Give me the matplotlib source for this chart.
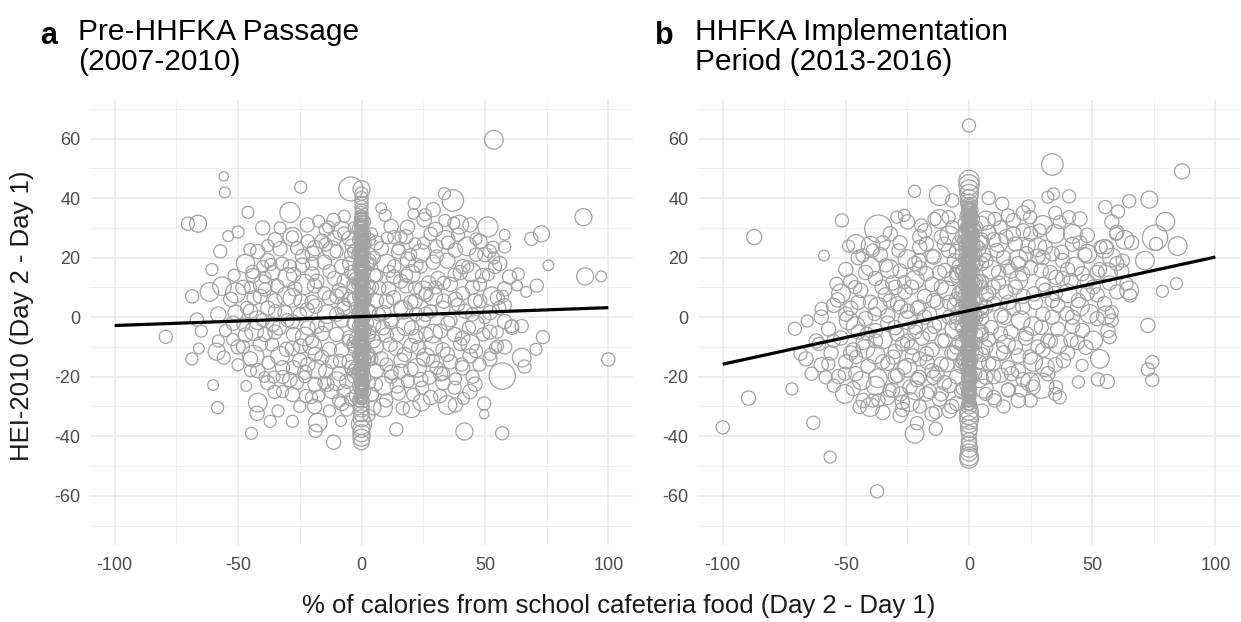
import matplotlib.pyplot as plt
import numpy as np

plt.rcParams['font.family'] = ['Liberation Sans', 'DejaVu Sans']
plt.rcParams['axes.unicode_minus'] = False

# ---------- panel a: Pre-HHFKA Passage (2007-2010) ----------
# outer / individually readable circles
a_x = [53.6, -55.8, -55.4, -24.6, -4.3, -29, -46, -70.3, -66.2, 33.6,
       37, 21.4, 29, 89.9, 51.2, 72.9, 68.8, 58, 75.7, 90.6,
       97.1, 63.5, 71, 66.7, 63, 100, 73.5, 70.7, 64.9, 60.9,
       64.9, 66, 57, 57, 41.7, 49.7, 49.7, 41.3, 38.1, 34.8,
       31.9, 14.1, 8.7, 16.7, 20.3, 24.3, -11.3, -8.3, -17.7, -18.6,
       -13, -22.5, -20.3, -17.4, -44.6, -42, -42.3, -33.8, -35.2, -46.7,
       -58.3, -60.1, -39.3, -35.5, -31.9, -43.9, -55.8, -58.7, -68.7, -65.9,
       -58, -79.3, -64.9, -66.7, -68.6, -61.6, -56.5, -51, -51.6, -60.6,
       -57.2, -54, -50, -45.2, -44.2, -39.1, -36.7, -58, -51, -55.1,
       -52.2,
       39.6, 37.4, 33.8, 25.4, 25.8, 21, 18.6, 9.6, 8, 46.4,
       46.4, 42.8, 39.1, 30.4, 25.1, 21.7, 51.9, 53.6, 54.1, 58,
       53.3, 44.6, 51.4, 57.2, 52.9, 48.1, 60.9, 58, 13.3, 10.4,
       18.8, 19.9, 13.3, 11.3, 30.4, 34.8, 37.7, 33.3, 27.2, 21.7,
       15.9, 7.2,
       -11.3, -7, -7.2, -13.3, -17.4, -14.5, -21.7, -26.1, -23.9, -18.8,
       -14.5, -10.9, -10.1, -32.2, -29, -27.5, -23.2, -18.1, -13, -7.2,
       -30.4, -34.1, -39.1, -43.5, -46.4, -24.6, -18.8, -13, -7.2,
       -47.8, -43.5, -39.1, -33.3, -27.5, -21.7, -14.5, -10.1, -36.2, -30.4,
       -24.6, -18.8, -13, -8.7, -37.7, -27.5, -21.7, -14.5, -10.1, -26.1,
       -18.8, -7.2, -4.3, 8.7, 14.5, 20.3, 26.1, 31.9, 37.7, 43.5,
       49.3, 11.6, 17.4, 23.2, 29, 34.8, 40.6, 46.4, 47.8, 10.1,
       15.9, 22.5, 27.5, 30.4, 14.5, 18.8, 24.6, 37.7, 5.8, 4.3,
       29, 52.2, 55.1, 54.3, 44.9, 50, 55.8, 39.1, 33.3, 26.1,
       21.7, 15.9, 10.1,
       -35, -30, -25, -20, -15, -10, -5, -5, -8, -12,
       -28, -38, -33, -20, -4, -3, -40, -45, -48, -32,
       -25, -6, -3, -15, -40, 5, 4, 6, 5, 4,
       7, 12, 18, 24, 28, 36, 41, 43, 35, 28,
       16, 22, 45, 40, 33, 21, 10, 12, 25, 3,
       -9, -23, 55, 48, 30, 15, -45, -50, -37, -28]
a_y = [59.6, 47.3, 41.9, 43.7, 43.1, 35.2, 35.2, 31.4, 31.4, 41.5,
       39.2, 38.3, 36.1, 33.6, 30.3, 28, 26.3, 27.7, 17.4, 13.7,
       13.7, 14.5, 10.6, 8.5, 10.6, -14.2, -6.7, -10.8, -3, -3.4,
       -13.6, -16.6, -19.8, -39, -38.4, -29, -32.6, -27.3, -20.7, -29.5,
       -26.5, -37.7, -30.4, -30.6, -30.9, -28.7, -42, -34.9, -35.4, -38.2,
       -31.5, -26.5, -27, -26.5, -39, -28.7, -32.3, -31.5, -25.1, -23.1,
       -30.4, -22.8, -20.1, -20.1, -20.1, -13.1, -13.6, -11.6, -14, -10.5,
       -8, -6.6, -4.7, -0.8, 7, 8.5, 10.4, 8.2, 14.1, 16,
       22.1, 27.2, 28.6, 22.7, 15.2, 13.4, 17.7, 0.9, 1.5, -4.5,
       -7.5,
       31.1, 31.6, 32.5, 32.7, 34.4, 34.7, 30.2, 34.2, 36.6, 26.3,
       21, 23.8, 27.7, 23.8, 24.9, 24.6, 22.1, 19.9, 16.9, 23.6,
       23.5, 15.1, 14.3, 7, 7, 5.4, -3, 4, 26.9, 26.6,
       19.3, 21, 17.1, 15.4, 20.4, 19, 14.3, 11.5, 11.5, 9.8,
       12.1, 9.8,
       32.7, 33.9, 28.3, 30.3, 32.2, 29.4, 25.5, 23.2, 20.4, 23.2,
       24.4, 26.6, 22.1, 18, 17.1, 14.3, 11, 12.1, 15.4, 12.1,
       7, 10.4, 9.3, 6.5, 3.1, 5.4, 3.7, 6.5, 4.2,
       -2.5, -4.7, -5.8, -3.6, -5.8, -3.6, -2.5, -5.8, -9.2, -10.8,
       -9.7, -12.5, -10.8, -14.7, -15.3, -17, -15.9, -18.1, -21.5, -22,
       -22.6, -24.8, -27.6, -3.6, -5.8, -3.6, -5.8, -4.7, -5.8, -3.6,
       -5.8, -9.2, -12.5, -10.3, -9.7, -12.5, -15.9, -11.4, -15.9, -15.9,
       -18.1, -17, -20.3, -17, -23.1, -21.5, -23.7, -23.7, -22.6, -25.9,
       -14.7, -12.5, -9.7, -10.3, 0.9, -0.2, 3.1, 4.2, 5.4, 7.6,
       5.4, 3.1, 5.4,
       2, -1, 1, -8, 8, 1, -8, 18, 8, -15,
       27, 24, 30, 18, 24, 30, -1, 10, -10, -25,
       -30, -31, -20, -22, 17, 20, 28, 14, -8, -14,
       1, -1, 14, 17, 2, -1, 8, 17, 25, 28,
       27, 1, -20, -9, -19, -26, -28, -20, -14, -33,
       -28, -20, -5, 11, 10, 23, -18, -16, -35, -35]
a_w = [12, 3, 4, 5, 20, 14, 5, 6, 10, 5,
       16, 5, 7, 10, 14, 9, 6, 4, 4, 10,
       4, 5, 6, 4, 4, 6, 6, 5, 6, 7,
       12, 6, 24, 6, 10, 6, 3, 5, 5, 12,
       6, 6, 12, 6, 10, 10, 7, 4, 12, 6,
       5, 6, 5, 5, 5, 12, 7, 5, 6, 4,
       5, 4, 4, 5, 6, 16, 6, 10, 5, 4,
       5, 6, 5, 6, 6, 12, 12, 14, 5, 5,
       6, 4, 5, 5, 6, 5, 5, 8, 8, 5,
       5,
       12, 5, 5, 7, 5, 4, 7, 5, 4, 5,
       6, 12, 6, 6, 5, 5, 6, 5, 6, 5,
       5, 12, 5, 5, 12, 6, 6, 6, 6, 5,
       8, 5, 6, 5, 6, 8, 6, 6, 7, 6,
       7, 6,
       6, 5, 5, 5, 5, 6, 6, 6, 7, 8,
       6, 7, 6, 6, 6, 7, 14, 7, 6, 6,
       12, 6, 6, 7, 6, 7, 7, 7, 6,
       6, 12, 7, 7, 7, 7, 7, 7, 6, 7,
       7, 7, 7, 6, 6, 7, 7, 7, 12, 6,
       7, 6, 6, 7, 7, 7, 7, 7, 7, 6,
       6, 7, 7, 7, 12, 7, 6, 6, 6, 6,
       7, 12, 6, 6, 7, 6, 6, 6, 6, 6,
       6, 5, 5, 5, 6, 5, 6, 6, 7, 7,
       7, 7, 7,
       6, 6, 6, 6, 6, 7, 6, 6, 6, 6,
       5, 5, 5, 6, 6, 5, 6, 5, 6, 5,
       5, 6, 6, 6, 5, 6, 5, 6, 6, 6,
       6, 6, 6, 6, 6, 6, 6, 5, 6, 6,
       5, 6, 6, 6, 6, 6, 6, 6, 6, 5,
       6, 5, 5, 6, 6, 5, 5, 5, 5, 5]

# dense core of the cloud (estimated)
a_fill_x = [-40, -22, -8, 12, 30, 44,
            -35, -28, -16, -5, 6, 18, 34, 48,
            -42, -33, -20, -12, -4, 8, 15, 24, 38, 50,
            -47, -38, -24, -15, -8, 3, 10, 22, 29, 41, 56,
            -44, -36, -30, -20, -11, -4, 5, 13, 20, 31, 40, 49, 60,
            -48, -40, -27, -19, -9, -3, 4, 11, 18, 25, 36, 45, 58,
            -53, -41, -35, -28, -20, -10, -5, 6, 13, 20, 29, 38, 46, 55,
            -45, -38, -31, -22, -14, -7, 3, 9, 17, 26, 33, 42, 52,
            -52, -42, -36, -28, -18, -8, -3, 5, 12, 18, 25, 35, 46, 58,
            -47, -35, -23, -16, -5, 3, 10, 22, 29, 41, 52,
            -50, -41, -28, -20, -8, -3, 6, 14, 20, 33, 44, 58,
            -45, -33, -25, -16, -5, 3, 8, 16, 26, 36, 44, 52,
            -42, -32, -23, -18, -9, -4, 6, 12, 20, 32, 41,
            -38, -29, -14, -6, 9, 24, 33, 46,
            -28, -12, -2, 15, 28, 44,
            -19, -8, 5, 38]
a_fill_y = [30, 31, 29, 30.5, 29.5, 31,
            26, 27, 25.5, 26.5, 25, 27, 26, 25.5,
            22, 23, 21.5, 22.5, 21, 23, 22, 21.5, 22.5, 21,
            18, 19, 17.5, 18.5, 17, 19, 18, 17.5, 18.5, 17, 18,
            14, 15, 13.5, 14.5, 13, 15, 14, 13.5, 14.5, 13, 15, 14, 13.5,
            10, 11, 9.5, 10.5, 9, 11, 10, 9.5, 10.5, 9, 11, 10, 9.5,
            6, 7, 5.5, 6.5, 5, 7, 6, 5.5, 6.5, 5, 7, 6, 5.5, 6.5,
            2, 3, 1.5, 2.5, 1, 3, 2, 1.5, 2.5, 1, 3, 2, 1.5,
            -2, -1, -2.5, -1.5, -3, -1, -2, -2.5, -1.5, -3, -1, -2, -2.5, -1.5,
            -6, -5, -6.5, -5.5, -7, -5, -6, -6.5, -5.5, -7, -5,
            -10, -9, -10.5, -9.5, -11, -9, -10, -10.5, -9.5, -11, -9, -10,
            -14, -13, -14.5, -13.5, -15, -13, -14, -14.5, -13.5, -15, -13, -14,
            -18, -17, -18.5, -17.5, -19, -17, -18, -18.5, -17.5, -19, -17,
            -22, -21, -22.5, -21.5, -23, -21, -22, -22.5,
            -26, -25, -26.5, -25.5, -27, -25,
            -30, -29, -30.5, -29.5]
a_fill_w = [7, 7, 12, 7, 7, 7,
            7, 12, 7, 7, 7, 7, 12, 7,
            7, 7, 7, 12, 7, 7, 7, 12, 7, 7,
            12, 7, 7, 7, 7, 7, 12, 7, 7, 7, 7,
            7, 7, 12, 7, 7, 7, 7, 7, 12, 7, 7, 7, 7,
            7, 12, 7, 7, 7, 7, 7, 7, 7, 12, 7, 7, 7,
            7, 7, 7, 12, 7, 7, 7, 7, 7, 7, 12, 7, 7, 7,
            7, 7, 7, 7, 12, 7, 7, 7, 12, 7, 7, 7, 7,
            7, 12, 7, 7, 7, 7, 7, 7, 7, 12, 7, 7, 12, 7,
            7, 7, 12, 7, 7, 7, 7, 7, 12, 7, 7,
            7, 7, 7, 12, 7, 7, 7, 7, 7, 7, 12, 7,
            7, 12, 7, 7, 7, 7, 7, 7, 12, 7, 7, 7,
            7, 7, 7, 12, 7, 7, 7, 7, 7, 7, 7,
            7, 7, 7, 7, 12, 7, 7, 7,
            7, 7, 7, 7, 7, 7,
            7, 7, 7, 7]

# respondents with no change in school food share (x near 0)
a_col_x = [0, 0, 0, 0, 0, 0, 0, 0, 0, 0,
           0, 0, 0, 0, 0, 0, 0, 0, 0, 0,
           0, 0, 0, 0, 0, 0, 0, 0, 0, 0,
           0, 0, 0, 0, 0, 0, 0, 0, 0, 0,
           0, 0, 0, 0, 0, 0, 0, 0, 0, 0,
           0, 0, 0, 0, 0, 0, 0, 0, 0, 0,
           0, 0, 0, 0, 0, 0, 0, 0, 0, 0,
           0, 0, 0, 0, 0, 0, 0, 0,
           1.5, -1.5, 1.5, -1.5, 1.5, -1.5, 1.5, -1.5, 1.5, -1.5,
           2.5, -2.5, 2.5, -2.5, 2.5, -2.5, 2.5, -2.5,
           1, 1, 1, 1, 1, 1, 1, 1, 1, 1, 1, 1, 1,
           -1, -1, -1, -1, -1, -1, -1, -1, -1, -1, -1, -1, -1,
           3, 3, 3, 3, 3, 3, 3,
           -3, -3, -3, -3, -3, -3]
a_col_y = [43, 41.5, 40, 38.5, 37, 36, 35, 34, 33, 32,
           31, 30, 29, 28, 27, 26, 25, 24, 23, 22,
           21, 20, 19, 18, 17, 16, 15, 14, 13, 12,
           11, 10, 9, 8, 7, 6, 5, 4, 3, 2,
           1, 0, -1, -2, -3, -4, -5, -6, -7, -8,
           -9, -10, -11, -12, -13, -14, -15, -16, -17, -18,
           -19, -20, -21, -22, -23, -24, -25, -26.5, -28, -29.5,
           -31, -32.5, -34, -36, -37.5, -39, -40.5, -42,
           25, 21, 16, 11, 6, 1, -4, -9, -14, -19,
           18, 13, 8, 3, -2, -7, -12, -17,
           32, 28, 24, 20, 15, 10, 5, 0, -5, -10, -15, -20, -25,
           30, 26, 22, 17, 12, 7, 2, -3, -8, -13, -18, -23, -28,
           26, 18, 10, 2, -6, -14, -22,
           22, 14, 6, -2, -10, -18]
a_col_w = [10, 6, 6, 6, 6, 5, 6, 5, 6, 5,
           6, 5, 6, 5, 6, 5, 6, 5, 6, 5,
           6, 5, 6, 5, 6, 5, 6, 5, 6, 5,
           6, 5, 6, 5, 6, 5, 6, 5, 6, 5,
           6, 5, 6, 5, 6, 5, 6, 5, 6, 5,
           6, 5, 6, 5, 6, 5, 6, 5, 6, 5,
           6, 5, 6, 5, 6, 5, 6, 6, 8, 8,
           8, 8, 10, 14, 10, 10, 10, 8,
           5, 5, 5, 5, 5, 5, 5, 5, 5, 5,
           5, 5, 5, 5, 5, 5, 5, 5,
           6, 6, 6, 6, 6, 6, 6, 6, 6, 6, 6, 6, 6,
           6, 6, 6, 6, 6, 6, 6, 6, 6, 6, 6, 6, 6,
           6, 6, 6, 6, 6, 6, 6,
           6, 6, 6, 6, 6, 6]
# the packed part of the x = 0 column (estimated)
a_zero_y = [-28, -27.5, -27, -26.5, -26, -25.5, -25, -24.5, -24, -23.5,
            -23, -22.5, -22, -21.5, -21, -20.5, -20, -19.5, -19, -18.5,
            -18, -17.5, -17, -16.5, -16, -15.5, -15, -14.5, -14, -13.5,
            -13, -12.5, -12, -11.5, -11, -10.5, -10, -9.5, -9, -8.5,
            -8, -7.5, -7, -6.5, -6, -5.5, -5, -4.5, -4, -3.5,
            -3, -2.5, -2, -1.5, -1, -0.5, 0, 0.5, 1, 1.5,
            2, 2.5, 3, 3.5, 4, 4.5, 5, 5.5, 6, 6.5,
            7, 7.5, 8, 8.5, 9, 9.5, 10, 10.5, 11, 11.5,
            12, 12.5, 13, 13.5, 14, 14.5, 15, 15.5, 16, 16.5,
            17, 17.5, 18, 18.5, 19, 19.5, 20, 20.5, 21, 21.5,
            22, 22.5, 23, 23.5, 24, 24.5, 25, 25.5, 26, 26.5,
            27, 27.5, 28, 28.5, 29, 29.5, 30, 30.5, 31, 31.5,
            32, 32.5, 33, 33.5, 34]
a_zero_w = [2, 4, 7, 3, 5, 2, 6, 4, 3, 8,
            2, 4, 7, 3, 5, 2, 6, 4, 3, 8,
            2, 4, 7, 3, 5, 2, 6, 4, 3, 8,
            2, 4, 7, 3, 5, 2, 6, 4, 3, 8,
            2, 4, 7, 3, 5, 2, 6, 4, 3, 8,
            2, 4, 7, 3, 5, 2, 6, 4, 3, 8,
            2, 4, 7, 3, 5, 2, 6, 4, 3, 8,
            2, 4, 7, 3, 5, 2, 6, 4, 3, 8,
            2, 4, 7, 3, 5, 2, 6, 4, 3, 8,
            2, 4, 7, 3, 5, 2, 6, 4, 3, 8,
            2, 4, 7, 3, 5, 2, 6, 4, 3, 8,
            2, 4, 7, 3, 5, 2, 6, 4, 3, 8,
            2, 4, 7, 3, 5]

# ---------- panel b: HHFKA Implementation Period (2013-2016) ----------
b_x = [33.8, 86.5, -22.1, -12, -6.8, 34.3, 32, 40.6, 55.3, 60.5,
       65, 73.2, 79.7, 75.5, 84.7, 75.9, 71.4, 84.2, 78.5, 72.6,
       74.4, 72.6, 74.4, 65, 65.4, 63.9, 55.6, 59.7, 63.2, 62.4,
       56.4, 57.9, 55.6, 57.1, 53.1, 45.9, 44.4, 52.3, 56.1, 36.8,
       35, 35.3, 29.3, 24.8, 21.1, 15.8, 10.5, 6.8, 5.3, -13.5,
       -13.5, -22.1, -21.1, -37.3, -56.4, -63.2, -71.9, -89.5, -100, -87.2,
       -51.6, -58.9, -53.8, -53.4, -59.8, -65.7, -70.7, -60.9, -68.4, -66.2,
       -63.9, -57.1, -58.2, -54.9, -50.4, -48.9, -36.8, -29.3, -26.3, -19.4,
       -45.9, -48.9, -43.2, -46.2, -39.1, -32.3, -33.8, -28.6, -26.3, -32.3,
       -38.3, -41.4, -42.1, -45.9, -50.4, -43.6, -39.1, -40.2, -44.4, -36.8,
       -32.3, -27.1, -27.8, -21.8, -17.3, -11.3, -14.3, -20.3, -26.3, -30.8,
       -23.3, -17.3, -11.3, -29.3, -21.8, -15.8, -9.8, -20.3, -14.3, -11.3,
       -17.3, -14.3, -8.3, -17.3, -11.3, -20.3, -23.3, -27.8, -35.3, -9.8,
       -6.8, -8.3,
       6.8, 10.5, 13.5, 15.8, 12.8, 24.1, 24.8, 28.6, 36.8, 40.6,
       42.1, 48.1, 53.4, 37.6, 33.8, 27.8, 23.3, 18.8, 11.3, 6.8,
       15.8, 21.8, 29.3, 35.3, 41.4, 45.9, 50.4, 44.4, 48.9, 39.8,
       33.8, 26.3, 18.8, 9.8, 6.8, 14.3, 21.8, 29.3, 36.1, 41.4,
       47.4, 50.4, 38.3, 30.8, 24.8, 18.8, 12.8, 6.8, 9.8, 17.3,
       6.8, 23.3, 33.8, 56.4, 57.9,
       -35, -30, -25, -20, -15, -10, -6, -5, -8, -12,
       -18, -25, -33, -38, -45, -48, -42, -30, -22, -5,
       -4, -14, -3, -7, 5, 4, 5, 4, 8, 12,
       16, 20, 25, 30, 35, 40, 45, 28, 20, 14,
       10, 18, 10, 32, 42, 48, 52, 60, 35, 22,
       8, 14, 25, -20, -28, -48, -55, -40, -35, -20]
b_y = [51.3, 49, 42.3, 40.9, 39.2, 41.4, 40.3, 40.6, 37, 35.5,
       39, 39.5, 32.1, 26.7, 23.9, 24.6, 19, 11.3, 8.7, -2.8,
       -15.1, -17.6, -21.1, 9, 7.3, 11.2, 23.5, 28, 26, 19,
       15.1, 1.7, 0.6, -6.7, -14, -16.2, -21.8, -20.9, -21.6, -26.9,
       -25.8, -23.5, -23, -21.8, -24.6, -24.4, -28, -25.8, -31.4, -31.9,
       -37.5, -39.2, -35.6, -58.5, -47, -35.5, -24.1, -27.2, -37, 26.9,
       32.5, 20.7, 11.2, 5.8, 2.8, -1.3, -3.9, -9, -12.3, -14,
       -19, -15.7, -20.2, -23, -25.8, -1.1, 29.7, 33.6, 34.2, 30.8,
       24.6, 23.9, 20.7, 10.1, 22.4, 16.2, 17.4, 22.4, 11.8, 5.6,
       1.1, -5.6, -10.6, -13.4, -19, -21.3, -28, -30.2, -30.2, -28,
       -24.6, -28.6, -25.8, -24.6, -25.8, -25.8, -20.2, -20.2, -16.8, -13.4,
       -10.1, -12.3, -15.7, -5.6, -3.4, -5.6, -7.8, 3.4, 5.6, 10.1,
       14.6, 20.2, 22.4, 24.6, 26.9, 19, 10.1, 3.4, 10.1, 15.7,
       30.2, 33.6,
       32.5, 33, 38.1, 34.2, 30.2, 37.2, 33.6, 29.1, 31.9, 33.6,
       28, 21.3, 23.5, 21.8, 21.3, 23.5, 21.3, 24.6, 22.4, 19,
       16.8, 14.6, 15.7, 13.4, 12.3, 14.6, 10.1, 5.6, 1.1, 1.1,
       5.6, 7.8, 10.1, 10.1, 3.4, 0, 3.4, -3.4, -9, -7.8,
       -10.1, -7.8, -14.6, -16.8, -13.4, -10.1, -5.6, -10.1, -15.7, -19,
       -20.2, -5.6, 0, -4.5, -1.1,
       -15, -20, -8, -14, -18, -22, -12, 0, 5, -2,
       0, 2, -2, -8, -5, 3, 15, 10, 18, 15,
       25, 33, -25, -30, 25, 12, -5, -15, 8, 15,
       5, 18, 28, 20, 8, 16, 25, -10, -18, -12,
       -20, 28, 26, -8, -3, 8, 15, 18, 35, 35,
       40, -30, -28, -30, -33, -12, -8, 5, 25, 27]
b_w = [16, 8, 5, 14, 6, 5, 5, 6, 6, 6,
       6, 10, 12, 22, 12, 6, 12, 5, 5, 7,
       6, 6, 6, 12, 6, 6, 6, 6, 12, 6,
       12, 6, 12, 6, 12, 5, 5, 6, 7, 6,
       6, 6, 22, 12, 6, 6, 6, 6, 6, 6,
       6, 12, 6, 6, 5, 6, 5, 7, 6, 8,
       6, 4, 6, 7, 6, 5, 6, 6, 6, 7,
       6, 6, 6, 6, 12, 12, 26, 5, 5, 6,
       12, 5, 6, 6, 6, 12, 6, 6, 6, 6,
       6, 6, 12, 6, 6, 12, 6, 12, 6, 6,
       6, 7, 7, 12, 7, 7, 7, 7, 7, 7,
       7, 7, 7, 7, 7, 7, 7, 7, 7, 7,
       7, 7, 7, 7, 7, 7, 7, 7, 7, 7,
       6, 6,
       12, 6, 6, 6, 6, 6, 6, 6, 6, 6,
       12, 12, 6, 7, 7, 12, 7, 7, 7, 7,
       7, 7, 7, 7, 7, 7, 7, 7, 12, 7,
       7, 7, 7, 7, 7, 7, 7, 7, 12, 7,
       7, 12, 7, 12, 7, 7, 7, 7, 7, 7,
       7, 7, 7, 7, 6,
       7, 7, 7, 7, 7, 7, 7, 7, 7, 7,
       7, 7, 7, 7, 7, 7, 7, 7, 7, 7,
       7, 6, 7, 7, 7, 7, 7, 7, 7, 7,
       7, 7, 7, 7, 7, 7, 7, 7, 7, 7,
       7, 7, 7, 7, 7, 7, 7, 7, 6, 7,
       6, 6, 6, 6, 7, 7, 6, 7, 7, 7]

b_fill_x = [-25, -12, 5, 18, 30, 45, 58,
            -32, -18, -8, 8, 15, 22, 35, 48, 60,
            -40, -28, -20, -10, 4, 12, 24, 31, 42, 55, 66,
            -45, -36, -25, -15, -6, 6, 14, 20, 28, 38, 47, 58,
            -50, -40, -28, -20, -12, -4, 9, 17, 25, 33, 43, 53, 62,
            -48, -38, -31, -22, -15, -7, 5, 12, 20, 30, 38, 48, 57,
            -52, -44, -34, -26, -18, -9, -4, 7, 15, 22, 31, 40, 52, 60,
            -55, -45, -37, -29, -21, -13, -6, 4, 10, 18, 27, 36, 45, 55,
            -60, -50, -42, -33, -25, -16, -8, 5, 13, 21, 30, 42, 52,
            -57, -46, -38, -30, -22, -14, -6, 4, 9, 17, 26, 36, 46,
            -62, -52, -43, -35, -27, -19, -11, -4, 8, 15, 23, 33, 44,
            -56, -47, -38, -30, -23, -15, -7, 5, 12, 20, 30, 40,
            -60, -50, -41, -33, -25, -17, -9, -3, 8, 16, 26, 35,
            -53, -46, -37, -29, -21, -13, -5, 4, 13, 22, 32,
            -47, -38, -31, -24, -16, -8, 6, 16, 26,
            -43, -33, -24, -12, -5, 10, 20,
            -35, -27, -15, -8]
b_fill_y = [32, 33, 31.5, 32.5, 31, 33, 32,
            28, 29, 27.5, 28.5, 27, 29, 28, 27.5, 28.5,
            24, 25, 23.5, 24.5, 23, 25, 24, 23.5, 24.5, 23, 25,
            20, 21, 19.5, 20.5, 19, 21, 20, 19.5, 20.5, 19, 21, 20,
            16, 17, 15.5, 16.5, 15, 17, 16, 15.5, 16.5, 15, 17, 16, 15.5,
            12, 13, 11.5, 12.5, 11, 13, 12, 11.5, 12.5, 11, 13, 12, 11.5,
            8, 9, 7.5, 8.5, 7, 9, 8, 7.5, 8.5, 7, 9, 8, 7.5, 8.5,
            4, 5, 3.5, 4.5, 3, 5, 4, 3.5, 4.5, 3, 5, 4, 3.5, 4.5,
            0, 1, -0.5, 0.5, -1, 1, 0, -0.5, 0.5, -1, 1, 0, -0.5,
            -4, -3, -4.5, -3.5, -5, -3, -4, -4.5, -3.5, -5, -3, -4, -4.5,
            -8, -7, -8.5, -7.5, -9, -7, -8, -8.5, -7.5, -9, -7, -8, -8.5,
            -12, -11, -12.5, -11.5, -13, -11, -12, -12.5, -11.5, -13, -11, -12,
            -16, -15, -16.5, -15.5, -17, -15, -16, -16.5, -15.5, -17, -15, -16,
            -20, -19, -20.5, -19.5, -21, -19, -20, -20.5, -19.5, -21, -19,
            -24, -23, -24.5, -23.5, -25, -23, -24, -24.5, -23.5,
            -28, -27, -28.5, -27.5, -29, -27, -28,
            -32, -31, -32.5, -31.5]
b_fill_w = [7, 12, 7, 7, 12, 7, 7,
            7, 7, 12, 7, 7, 7, 12, 7, 7,
            12, 7, 7, 7, 7, 12, 7, 7, 7, 12, 7,
            7, 7, 12, 7, 7, 7, 7, 12, 7, 7, 7, 12,
            7, 12, 7, 7, 7, 7, 12, 7, 7, 7, 12, 7, 7,
            7, 7, 7, 12, 7, 7, 7, 7, 12, 7, 7, 7, 7,
            12, 7, 7, 7, 7, 12, 7, 7, 7, 7, 7, 12, 7, 7,
            7, 7, 12, 7, 7, 7, 7, 12, 7, 7, 7, 7, 12, 7,
            7, 7, 7, 7, 12, 7, 7, 7, 7, 12, 7, 7, 7,
            7, 12, 7, 7, 7, 7, 12, 7, 7, 7, 12, 7, 7,
            7, 7, 7, 12, 7, 7, 7, 7, 7, 12, 7, 7, 7,
            7, 7, 12, 7, 7, 7, 7, 7, 12, 7, 7, 7,
            7, 7, 7, 7, 12, 7, 7, 7, 7, 7, 12, 7,
            7, 7, 12, 7, 7, 7, 7, 12, 7, 7, 7,
            7, 12, 7, 7, 7, 7, 12, 7, 7,
            7, 7, 12, 7, 7, 7, 7,
            7, 7, 7, 7]

b_col_x = [0, 0, 0, 0, 0, 0, 0, 0, 0, 0,
           0, 0, 0, 0, 0, 0, 0, 0, 0, 0,
           0, 0, 0, 0, 0, 0, 0, 0, 0, 0,
           0, 0, 0, 0, 0, 0, 0, 0, 0, 0,
           0, 0, 0, 0, 0, 0, 0, 0, 0, 0,
           0, 0, 0, 0, 0, 0, 0, 0, 0, 0,
           0, 0, 0, 0, 0, 0, 0, 0, 0, 0,
           0, 0, 0, 0, 0, 0, 0, 0, 0, 0,
           0, 0, 0, 0, 0, 0, 0, 0,
           1.5, -1.5, 1.5, -1.5, 1.5, -1.5, 1.5, -1.5, 1.5, -1.5,
           2.5, -2.5, 2.5, -2.5, 2.5, -2.5, 2.5, -2.5, 2.5, -2.5,
           1, 1, 1, 1, 1, 1, 1, 1, 1, 1, 1, 1, 1, 1,
           -1, -1, -1, -1, -1, -1, -1, -1, -1, -1, -1, -1, -1, -1,
           3, 3, 3, 3, 3, 3, 3, 3,
           -3, -3, -3, -3, -3, -3, -3, -3,
           5, 5, 5, 5, 5,
           -5, -5, -5, -5, -5,
           2, 2, 2, 2, 2, 2, 2, 2, 2, 2, 2, 2,
           -2, -2, -2, -2, -2, -2, -2, -2, -2, -2, -2, -2]
b_col_y = [64.4, 46, 44.5, 43, 41.5, 40, 38.5, 37, 35.5, 34,
           33, 32, 31, 30, 29, 28, 27, 26, 25, 24,
           23, 22, 21, 20, 19, 18, 17, 16, 15, 14,
           13, 12, 11, 10, 9, 8, 7, 6, 5, 4,
           3, 2, 1, 0, -1, -2, -3, -4, -5, -6,
           -7, -8, -9, -10, -11, -12, -13, -14, -15, -16,
           -17, -18, -19, -20, -21, -22, -23, -24, -25, -26,
           -27, -28, -29, -30, -31.5, -33, -34.5, -36, -37.5, -39,
           -41.4, -42.5, -44.2, -45.5, -46.8, -47.6, 30.5, 26.5,
           28, 24, 19, 14, 9, 4, -1, -6, -11, -16,
           21, 16, 11, 6, 1, -4, -9, -14, -19, -24,
           36, 32, 28, 24, 20, 16, 12, 8, 4, 0, -4, -8, -14, -20,
           34, 30, 26, 22, 18, 14, 10, 6, 2, -2, -6, -11, -17, -23,
           30, 24, 18, 12, 6, 0, -6, -12,
           27, 21, 15, 9, 3, -3, -9, -15,
           26, 18, 10, 2, -6,
           22, 14, 6, -2, -10,
           33, 30, 27, 24, 21, 18, 15, 12, 9, 6, 3, 0,
           31.5, 28.5, 25.5, 22.5, 19.5, 16.5, 13.5, 10.5, 7.5, 4.5, 1.5, -1.5]
b_col_w = [6, 14, 14, 12, 12, 10, 10, 8, 8, 8,
           6, 6, 6, 6, 6, 6, 6, 6, 6, 6,
           6, 6, 6, 6, 6, 6, 6, 6, 6, 6,
           6, 6, 6, 6, 6, 6, 6, 6, 6, 6,
           6, 6, 6, 6, 6, 6, 6, 6, 6, 6,
           6, 6, 6, 6, 6, 6, 6, 6, 6, 6,
           6, 6, 6, 6, 6, 6, 6, 6, 6, 6,
           6, 6, 6, 8, 12, 12, 12, 10, 10, 8,
           8, 8, 10, 10, 12, 12, 8, 8,
           6, 6, 6, 6, 6, 6, 6, 6, 6, 6,
           6, 6, 6, 6, 6, 6, 6, 6, 6, 6,
           6, 6, 6, 6, 6, 6, 6, 6, 6, 6, 6, 6, 6, 6,
           6, 6, 6, 6, 6, 6, 6, 6, 6, 6, 6, 6, 6, 6,
           6, 6, 6, 6, 6, 6, 6, 6,
           6, 6, 6, 6, 6, 6, 6, 6,
           7, 7, 7, 7, 7,
           7, 7, 7, 7, 7,
           4, 5, 4, 5, 4, 5, 4, 5, 4, 5, 4, 5,
           5, 4, 5, 4, 5, 4, 5, 4, 5, 4, 5, 4]
b_zero_y = [-30, -29.5, -29, -28.5, -28, -27.5, -27, -26.5, -26, -25.5,
            -25, -24.5, -24, -23.5, -23, -22.5, -22, -21.5, -21, -20.5,
            -20, -19.5, -19, -18.5, -18, -17.5, -17, -16.5, -16, -15.5,
            -15, -14.5, -14, -13.5, -13, -12.5, -12, -11.5, -11, -10.5,
            -10, -9.5, -9, -8.5, -8, -7.5, -7, -6.5, -6, -5.5,
            -5, -4.5, -4, -3.5, -3, -2.5, -2, -1.5, -1, -0.5,
            0, 0.5, 1, 1.5, 2, 2.5, 3, 3.5, 4, 4.5,
            5, 5.5, 6, 6.5, 7, 7.5, 8, 8.5, 9, 9.5,
            10, 10.5, 11, 11.5, 12, 12.5, 13, 13.5, 14, 14.5,
            15, 15.5, 16, 16.5, 17, 17.5, 18, 18.5, 19, 19.5,
            20, 20.5, 21, 21.5, 22, 22.5, 23, 23.5, 24, 24.5,
            25, 25.5, 26, 26.5, 27, 27.5, 28, 28.5, 29, 29.5,
            30, 30.5, 31, 31.5, 32, 32.5, 33, 33.5, 34, 34.5,
            35, 35.5, 36, 36.5, 37, 37.5, 38]
b_zero_w = [2, 4, 7, 3, 5, 2, 6, 4, 3, 8,
            2, 4, 7, 3, 5, 2, 6, 4, 3, 8,
            2, 4, 7, 3, 5, 2, 6, 4, 3, 8,
            2, 4, 7, 3, 5, 2, 6, 4, 3, 8,
            2, 4, 7, 3, 5, 2, 6, 4, 3, 8,
            2, 4, 7, 3, 5, 2, 6, 4, 3, 8,
            2, 4, 7, 3, 5, 2, 6, 4, 3, 8,
            2, 4, 7, 3, 5, 2, 6, 4, 3, 8,
            2, 4, 7, 3, 5, 2, 6, 4, 3, 8,
            2, 4, 7, 3, 5, 2, 6, 4, 3, 8,
            2, 4, 7, 3, 5, 2, 6, 4, 3, 8,
            2, 4, 7, 3, 5, 2, 6, 4, 3, 8,
            2, 4, 7, 3, 5, 2, 6, 4, 3, 8,
            2, 4, 7, 3, 5, 2, 6]

# linear fits (intercept, slope)
a_fit = (0.2, 0.03)
b_fit = (2.2, 0.18)
fit_range = [-100, 100]

panels = [
    ("a", "Pre-HHFKA Passage\n(2007-2010)",
     a_x + a_fill_x + a_col_x + [0] * len(a_zero_y),
     a_y + a_fill_y + a_col_y + a_zero_y,
     a_w + a_fill_w + a_col_w + a_zero_w, a_fit),
    ("b", "HHFKA Implementation\nPeriod (2013-2016)",
     b_x + b_fill_x + b_col_x + [0] * len(b_zero_y),
     b_y + b_fill_y + b_col_y + b_zero_y,
     b_w + b_fill_w + b_col_w + b_zero_w, b_fit),
]

fig = plt.figure(figsize=(12.41, 6.22), dpi=100)
positions = [[0.0725, 0.124, 0.4376, 0.7154], [0.5625, 0.124, 0.4367, 0.7154]]
title_x = [(40, 78), (655, 695)]

for (letter, title, xs, ys, ws, fit), pos, (lx, tx) in zip(panels, positions, title_x):
    ax = fig.add_axes(pos)
    ax.scatter(xs, ys, s=np.array(ws) * 15, facecolors="none",
               edgecolors="#a3a3a3", linewidths=0.9, zorder=2)
    fx = np.array(fit_range)
    ax.plot(fx, fit[0] + fit[1] * fx, color="black", lw=2.3, zorder=3,
            solid_capstyle="butt")

    ax.set_xlim(-110, 110)
    ax.set_ylim(-76.5, 73)
    ax.set_xticks([-100, -50, 0, 50, 100])
    ax.set_xticks([-75, -25, 25, 75], minor=True)
    ax.set_yticks([-60, -40, -20, 0, 20, 40, 60])
    ax.set_yticks([-70, -50, -30, -10, 10, 30, 50, 70], minor=True)
    ax.grid(True, which="major", color="#e8e8e8", lw=1.1, zorder=0)
    ax.grid(True, which="minor", color="#eeeeee", lw=0.6, zorder=0)
    ax.set_axisbelow(True)
    for sp in ax.spines.values():
        sp.set_visible(False)
    ax.tick_params(which="both", length=0, labelsize=13, labelcolor="#4d4d4d")
    ax.tick_params(axis="x", pad=9)
    ax.tick_params(axis="y", pad=7)

    fig.text(lx / 1241, 1 - 44 / 622, letter, fontsize=22, fontweight="bold",
             va="baseline", ha="left")
    fig.text(tx / 1241, 1 - 70 / 622, title, fontsize=21.5, va="baseline",
             ha="left", linespacing=1.08)

fig.text(22 / 1241, 1 - 316 / 622, "HEI-2010 (Day 2 - Day 1)", rotation=90,
         fontsize=18.5, va="center", ha="center", color="#1a1a1a")
fig.text(619 / 1241, 1 - 606 / 622,
         "% of calories from school cafeteria food (Day 2 - Day 1)",
         fontsize=18.5, va="center", ha="center", color="#1a1a1a")

plt.savefig("out.png", dpi=100)
